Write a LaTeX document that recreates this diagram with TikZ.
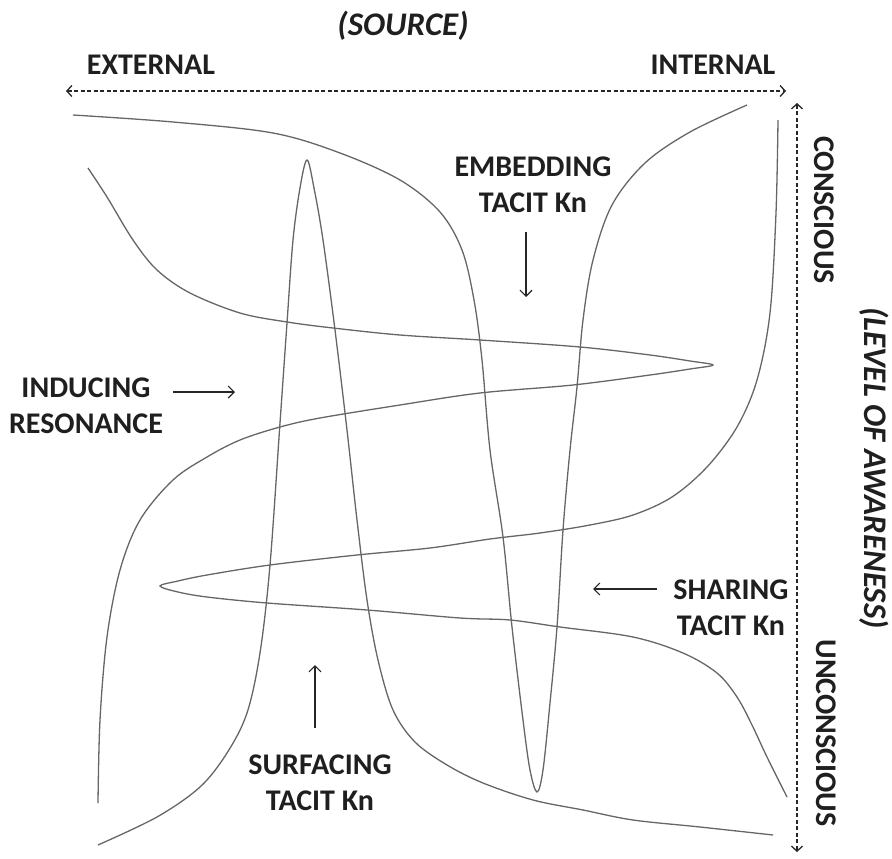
\documentclass[tikz,border=0pt]{standalone}
\usepackage{fontspec}
\setmainfont{Carlito}
\usetikzlibrary{arrows.meta}
\begin{document}
\begin{tikzpicture}[x=1pt,y=-1pt,
  lbl/.style={font=\fontsize{30}{36}\selectfont\bfseries, text=black!88, inner sep=0pt, align=center},
  ttl/.style={font=\fontsize{33}{40}\selectfont\bfseries\itshape, text=black!88, inner sep=0pt},
  axisline/.style={line width=1.4pt, draw=black!85, dash pattern=on 4pt off 2.5pt,
     {Straight Barb[length=5pt,width=11pt,line width=1.3pt]}-{Straight Barb[length=5pt,width=11pt,line width=1.3pt]}},
  ptr/.style={line width=1.3pt, draw=black!85, -{Straight Barb[length=6pt,width=12pt,line width=1.2pt]}},
  wave/.style={line width=1.3pt, draw=black!60, smooth, tension=0.55}
]
\useasboundingbox (0,0) rectangle (892,859);

% axes
\coordinate (hL) at (66,91);
\coordinate (hR) at (786,91);
\coordinate (vT) at (797,103);
\coordinate (vB) at (797,852);
\draw[axisline] (hL) -- (hR);
\draw[axisline] (vT) -- (vB);

\node[ttl] (source) at (403,26) {(SOURCE)};
\node[lbl] (external) at (151,65) {EXTERNAL};
\node[lbl] (internal) at (713,65) {INTERNAL};
\node[lbl, rotate=-90] (conscious) at (824,210) {CONSCIOUS};
\node[lbl, rotate=-90] (unconscious) at (826,733) {UNCONSCIOUS};
\node[ttl, rotate=-90] (awareness) at (874,468) {(LEVEL OF AWARENESS)};

% curve A (down-pointing loop)
\draw[wave] plot coordinates {(73,115) (173,122) (273,133) (340,153) (400,180) (440,212) (462,250) (474,300) (482,360) (490,450) (503,537) (512,627) (523,720) (530,770) (537,792) (543,770) (550,703) (557,627) (563,530) (570,450) (577,387) (583,320) (593,260) (612,205) (645,163) (690,132) (747,105)};
% curve B (left-pointing loop)
\draw[wave] plot coordinates {(778,120) (776,213) (770,313) (757,380) (737,427) (707,467) (672,497) (633,515) (590,525) (540,533) (490,539) (430,548) (357,555) (270,565) (207,575) (178,581) (160,586) (178,592) (207,597) (267,603) (367,610) (460,618) (510,620) (560,627) (633,637) (683,653) (717,673) (737,697) (752,725) (767,757) (787,797)};
% curve C (up-pointing loop)
\draw[wave] plot coordinates {(773,835) (700,827) (633,820) (583,810) (533,800) (483,783) (447,765) (415,742) (393,710) (378,660) (367,600) (357,520) (347,430) (335,330) (323,240) (314,188) (307,160) (300,188) (293,240) (287,323) (280,423) (270,565) (260,653) (247,713) (227,753) (200,787) (157,817) (98,845)};
% curve D (right-pointing loop)
\draw[wave] plot coordinates {(98,803) (100,720) (107,637) (120,570) (140,520) (173,480) (207,457) (240,440) (280,427) (320,418) (400,405) (480,393) (573,385) (650,375) (690,369) (713,365) (690,361) (650,355) (580,347) (480,340) (400,335) (333,328) (287,322) (240,313) (190,293) (157,270) (133,240) (107,197) (88,168)};

% labels
\node[lbl] (embedding) at (533,184.5) {EMBEDDING\\TACIT Kn};
\coordinate (embS) at (526,232);
\coordinate (embE) at (526,297);
\draw[ptr] (embS) -- (embE);

\node[lbl] (inducing) at (86,406) {INDUCING\\RESONANCE};
\coordinate (indS) at (173,392);
\coordinate (indE) at (235,392);
\draw[ptr] (indS) -- (indE);

\node[lbl] (sharing) at (731,608) {SHARING\\TACIT Kn};
\coordinate (shaS) at (657,589);
\coordinate (shaE) at (593,589);
\draw[ptr] (shaS) -- (shaE);

\node[lbl] (surfacing) at (320,782.5) {SURFACING\\TACIT Kn};
\coordinate (surS) at (315,728);
\coordinate (surE) at (315,665);
\draw[ptr] (surS) -- (surE);
\end{tikzpicture}
\end{document}
